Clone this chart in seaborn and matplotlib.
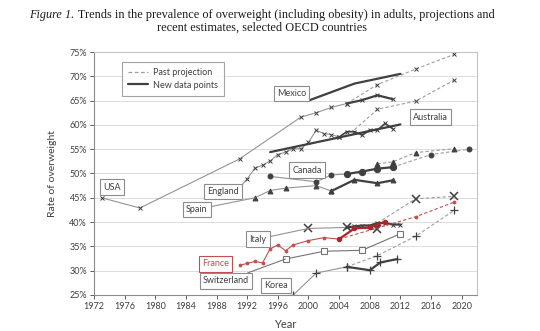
import matplotlib
matplotlib.use("Agg")
import matplotlib.pyplot as plt
import seaborn as sns
from matplotlib.lines import Line2D

# ---------------- data ----------------
x_ticks = list(range(1972, 2021, 4))
y_ticks = [25, 30, 35, 40, 45, 50, 55, 60, 65, 70, 75]

usa_hist_x = [1973, 1978, 1991, 1999, 2001, 2003, 2005]
usa_hist_y = [45.0, 42.9, 53.0, 61.6, 62.5, 63.6, 64.4]
usa_new_x = [2005, 2007, 2009, 2011]
usa_new_y = [64.4, 65.1, 66.1, 65.3]
usa_proj_x = [2005, 2009, 2014, 2019]
usa_proj_y = [64.4, 68.3, 71.5, 74.5]

mexico_new_x = [2000, 2006, 2012]
mexico_new_y = [65.0, 68.5, 70.5]

england_hist_x = [1991, 1992, 1993, 1994, 1995, 1996, 1997, 1998, 1999, 2000,
                  2001, 2002, 2003, 2004]
england_hist_y = [47.1, 48.9, 51.1, 51.7, 52.6, 53.9, 54.4, 55.1, 55.1, 56.4,
                  58.9, 58.2, 58.0, 57.5]
england_new_x = [2004, 2005, 2006, 2007, 2008, 2009, 2010, 2011]
england_new_y = [57.5, 58.6, 58.6, 57.9, 58.9, 58.9, 60.3, 59.2]
england_proj_x = [2006, 2009, 2014, 2019]
england_proj_y = [59.0, 63.2, 64.9, 69.2]

australia_new_x = [1995, 2012]
australia_new_y = [54.4, 60.1]

canada_hist_x = [1995, 2001, 2003, 2005]
canada_hist_y = [49.4, 48.3, 49.7, 49.9]
canada_new_x = [2005, 2007, 2009, 2011]
canada_new_y = [49.9, 50.4, 51.0, 51.3]
canada_proj_x = [2011, 2016, 2021]
canada_proj_y = [51.3, 53.9, 55.0]

spain_hist_x = [1993, 1995, 1997, 2001, 2003]
spain_hist_y = [45.0, 46.5, 47.0, 47.5, 46.4]
spain_new_x = [2003, 2006, 2009, 2011]
spain_new_y = [46.4, 48.7, 48.0, 48.6]
spain_proj_x = [2009, 2011, 2014, 2019]
spain_proj_y = [52.0, 52.4, 54.3, 55.1]

italy_hist_x = [2000, 2005, 2009]
italy_hist_y = [38.7, 38.9, 38.5]
italy_new_x = [2005, 2006, 2007, 2008, 2009, 2010, 2011, 2012]
italy_new_y = [38.9, 39.1, 39.3, 39.3, 39.8, 39.8, 39.5, 39.5]
italy_proj_x = [2009, 2014, 2019]
italy_proj_y = [39.8, 44.8, 45.3]

france_hist_x = [1991, 1992, 1993, 1994, 1995, 1996, 1997, 1998, 2000, 2002, 2004]
france_hist_y = [31.1, 31.5, 31.9, 31.6, 34.5, 35.3, 34.1, 35.3, 36.2, 36.8, 36.5]
france_new_x = [2004, 2006, 2008, 2009, 2010]
france_new_y = [36.5, 38.7, 38.9, 39.5, 40.1]
france_proj_x = [2004, 2014, 2019]
france_proj_y = [36.5, 41.1, 44.1]

swiss_x = [1997, 2002, 2007, 2012]
swiss_y = [32.4, 34.0, 34.2, 37.6]

korea_hist_x = [1998, 2001, 2005]
korea_hist_y = [25.0, 29.5, 30.8]
korea_new_x = [2005, 2008, 2009.4, 2011.6]
korea_new_y = [30.8, 30.1, 31.7, 32.4]
korea_proj_x = [2005, 2009, 2014, 2019]
korea_proj_y = [30.8, 33.1, 37.1, 42.4]

# ---------------- style ----------------
sns.set_theme(style="white")
plt.rcParams["font.family"] = ["Lato", "DejaVu Sans"]

THIN = "#949494"
DARK = "#404040"
DASH = "#9e9e9e"
RED = "#c0504d"
DRED = "#a8252b"
DASHSTYLE = (0, (3, 2))

fig = plt.figure(figsize=(5.4, 3.31), dpi=100)
ax = fig.add_axes([94 / 540, 1 - 295 / 331, (477 - 94) / 540, (295 - 52) / 331])


def draw(x, y, **kw):
    sns.lineplot(x=x, y=y, ax=ax, sort=False, estimator=None, legend=False, **kw)


def thin(x, y, **kw):
    kw.setdefault("color", THIN)
    draw(x, y, linewidth=0.8, **kw)


def thick(x, y, lw=1.6, **kw):
    kw.setdefault("color", DARK)
    draw(x, y, linewidth=lw, **kw)


def proj(x, y, **kw):
    kw.setdefault("color", DASH)
    draw(x, y, linewidth=0.8, linestyle=DASHSTYLE, **kw)


xm = dict(marker="x", markersize=3.0, markeredgewidth=0.7, markeredgecolor=DARK)
bigx = dict(marker="x", markersize=6.0, markeredgewidth=1.1, markeredgecolor=DARK)

# USA
thin(usa_hist_x, usa_hist_y, **xm)
proj(usa_proj_x, usa_proj_y, markevery=[1, 2, 3], **xm)
thick(usa_new_x, usa_new_y, **xm)
# Mexico
thick(mexico_new_x, mexico_new_y)
# England
thin(england_hist_x, england_hist_y, **xm)
proj(england_proj_x, england_proj_y, markevery=[1, 2, 3], **xm)
thick(england_new_x, england_new_y, lw=1.2, **xm)
# Australia
thick(australia_new_x, australia_new_y)
# Canada
circ = dict(marker="o", markersize=3.5, markerfacecolor=DARK, markeredgecolor=DARK)
thin(canada_hist_x, canada_hist_y, **circ)
proj(canada_proj_x, canada_proj_y, **circ)
thick(canada_new_x, canada_new_y, marker="o", markersize=4.5,
      markerfacecolor=DARK, markeredgecolor=DARK)
# Spain
tri = dict(marker="^", markersize=3.5, markerfacecolor=DARK, markeredgecolor=DARK)
thin(spain_hist_x, spain_hist_y, **tri)
proj(spain_proj_x, spain_proj_y, **tri)
thick(spain_new_x, spain_new_y, **tri)
# Italy
thin(italy_hist_x, italy_hist_y, **bigx)
proj(italy_proj_x, italy_proj_y, markevery=[1, 2], **bigx)
thick(italy_new_x, italy_new_y, **xm)
# Switzerland
thin(swiss_x, swiss_y, color="#747474", marker="s", markersize=3.8,
     markerfacecolor="white", markeredgecolor="#747474", markeredgewidth=0.8)
# Korea
plus = dict(marker="+", markersize=5.5, markeredgewidth=0.9, markeredgecolor=DARK)
thin(korea_hist_x, korea_hist_y, **plus)
proj(korea_proj_x, korea_proj_y, markevery=[1, 2, 3], **plus)
thick(korea_new_x, korea_new_y, **plus)
# France
dot = dict(marker="o", markersize=2.0, markerfacecolor=RED, markeredgecolor=RED)
thin(france_hist_x, france_hist_y, color=RED, **dot)
proj(france_proj_x, france_proj_y, color=RED, markevery=[1, 2], **dot)
thick(france_new_x, france_new_y, color=DRED, marker="o", markersize=3.2,
      markerfacecolor=DRED, markeredgecolor=DRED)

# ---------------- axes ----------------
ax.set_xlim(1972, 2022)
ax.set_ylim(25, 75)
ax.set_xticks(x_ticks)
ax.set_xticklabels([str(v) for v in x_ticks])
ax.set_yticks(y_ticks)
ax.set_yticklabels([f"{v}%" for v in y_ticks])
ax.tick_params(axis="both", labelsize=6.5, colors="#404040", length=3,
               width=0.6, direction="out", pad=2, bottom=True, left=True)
ax.yaxis.grid(True, color="#dcdcdc", linewidth=0.7)
ax.set_axisbelow(True)
for s in ax.spines.values():
    s.set_color("#c4c4c4")
    s.set_linewidth(0.8)
ax.spines["left"].set_color("#8c8c8c")
ax.spines["bottom"].set_color("#8c8c8c")
ax.set_xlabel("Year", fontsize=8, color="#404040", labelpad=6)
ax.set_ylabel("Rate of overweight", fontsize=7.5, color="#404040", labelpad=9)

# ---------------- labels ----------------
box = dict(boxstyle="square,pad=0.35", facecolor="white", edgecolor="#8c8c8c",
           linewidth=0.8)
lbl = dict(fontsize=6.5, color="#404040", ha="center", va="center")
ax.text(1974.4, 47.2, "USA", bbox=box, **lbl)
ax.text(1988.8, 46.3, "England", bbox=box, **lbl)
ax.text(1997.8, 66.5, "Mexico", bbox=box, **lbl)
ax.text(1999.8, 50.7, "Canada", bbox=box, **lbl)
ax.text(2015.9, 61.6, "Australia", bbox=box, **lbl)
ax.text(1995.8, 26.9, "Korea", bbox=box, **lbl)
rbox = dict(box, edgecolor=RED)
ax.text(1987.9, 31.4, "France", bbox=rbox, **dict(lbl, color=RED))
lead = dict(arrowstyle="-", color=THIN, linewidth=0.8, shrinkA=0, shrinkB=0)
ax.annotate("Spain", xy=(spain_hist_x[0], spain_hist_y[0]), xytext=(1985.4, 42.6),
            bbox=box, arrowprops=lead, **lbl)
ax.annotate("Italy", xy=(italy_hist_x[0], italy_hist_y[0]), xytext=(1993.4, 36.5),
            bbox=box, arrowprops=lead, **lbl)
ax.annotate("Switzerland", xy=(swiss_x[0], swiss_y[0]), xytext=(1989.2, 27.9),
            bbox=box, arrowprops=dict(lead, color="#747474"), **lbl)

# ---------------- legend ----------------
handles = [Line2D([], [], color=DASH, linewidth=0.9, linestyle=DASHSTYLE),
           Line2D([], [], color=DARK, linewidth=1.6)]
leg = ax.legend(handles, ["Past projection", "New data points"],
                loc="upper left", bbox_to_anchor=(0.061, 0.977), fontsize=6.5,
                frameon=True, fancybox=False, handlelength=2.2,
                borderpad=0.7, labelspacing=0.35, handletextpad=0.5)
leg.get_frame().set_edgecolor("#8c8c8c")
leg.get_frame().set_linewidth(0.8)
for t in leg.get_texts():
    t.set_color("#404040")

# ---------------- title ----------------
serif = ["Liberation Serif", "DejaVu Serif"]
tsize = 8.8
renderer = fig.canvas.get_renderer()
cx = 262 / 540
y1 = 1 - 15 / 331
y2 = 1 - 28 / 331
part1 = fig.text(0, y1, "Figure 1.", family=serif, style="italic", fontsize=tsize,
                 va="center", color="#1a1a1a")
part2 = fig.text(0, y1, " Trends in the prevalence of overweight (including obesity) "
                 "in adults, projections and", family=serif, fontsize=tsize,
                 va="center", color="#1a1a1a")
w1 = part1.get_window_extent(renderer).width / fig.bbox.width
w2 = part2.get_window_extent(renderer).width / fig.bbox.width
start = cx - (w1 + w2) / 2
part1.set_x(start)
part2.set_x(start + w1)
fig.text(cx, y2, "recent estimates, selected OECD countries", family=serif,
         fontsize=tsize, ha="center", va="center", color="#1a1a1a")

fig.savefig("out.png", dpi=100)
